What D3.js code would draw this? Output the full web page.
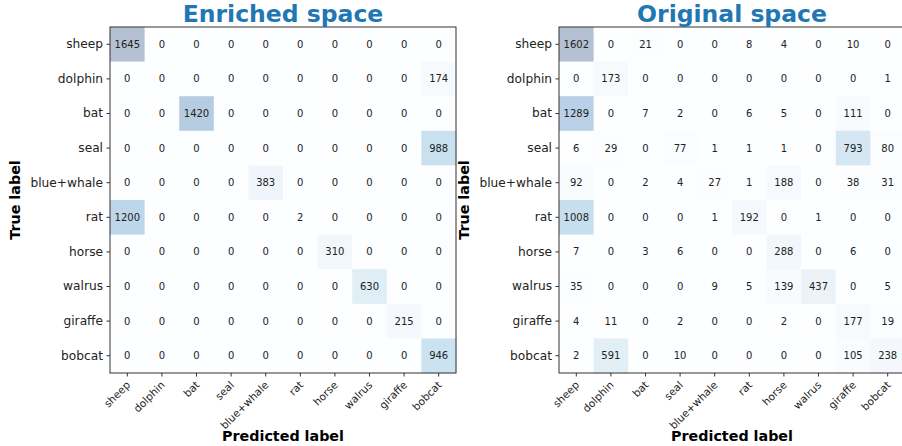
<!DOCTYPE html>
<html>
<head>
<meta charset="utf-8">
<script src="https://cdn.jsdelivr.net/npm/d3@7"></script>
<style>
  body { margin: 0; background: #fff; }
  svg { font-family: "DejaVu Sans", sans-serif; display: block; }
</style>
</head>
<body>
<svg id="chart" width="902" height="446"></svg>
<script>
const labels = ["sheep", "dolphin", "bat", "seal", "blue+whale", "rat", "horse", "walrus", "giraffe", "bobcat"];

// rows = true label, cols = predicted label
const enrichedCounts = [
  [1645, 0, 0, 0, 0, 0, 0, 0, 0, 0],
  [0, 0, 0, 0, 0, 0, 0, 0, 0, 174],
  [0, 0, 1420, 0, 0, 0, 0, 0, 0, 0],
  [0, 0, 0, 0, 0, 0, 0, 0, 0, 988],
  [0, 0, 0, 0, 383, 0, 0, 0, 0, 0],
  [1200, 0, 0, 0, 0, 2, 0, 0, 0, 0],
  [0, 0, 0, 0, 0, 0, 310, 0, 0, 0],
  [0, 0, 0, 0, 0, 0, 0, 630, 0, 0],
  [0, 0, 0, 0, 0, 0, 0, 0, 215, 0],
  [0, 0, 0, 0, 0, 0, 0, 0, 0, 946]
];

const originalCounts = [
  [1602, 0, 21, 0, 0, 8, 4, 0, 10, 0],
  [0, 173, 0, 0, 0, 0, 0, 0, 0, 1],
  [1289, 0, 7, 2, 0, 6, 5, 0, 111, 0],
  [6, 29, 0, 77, 1, 1, 1, 0, 793, 80],
  [92, 0, 2, 4, 27, 1, 188, 0, 38, 31],
  [1008, 0, 0, 0, 1, 192, 0, 1, 0, 0],
  [7, 0, 3, 6, 0, 0, 288, 0, 6, 0],
  [35, 0, 0, 0, 9, 5, 139, 437, 0, 5],
  [4, 11, 0, 2, 0, 0, 2, 0, 177, 19],
  [2, 591, 0, 10, 0, 0, 0, 0, 105, 238]
];

const panels = [
  { title: "Enriched space", counts: enrichedCounts, left: 110 },
  { title: "Original space", counts: originalCounts, left: 559 }
];

const svg = d3.select("#chart");
const size = 346;
const topMargin = 27;

panels.forEach(p => drawMatrix(p));

function drawMatrix(p) {
  const g = svg.append("g").attr("transform", `translate(${p.left},${topMargin})`);

  const x = d3.scaleBand().domain(labels).range([0, size]);
  const y = d3.scaleBand().domain(labels).range([0, size]);

  // imshow(cmap=Blues, alpha=0.3) -> blend onto white
  const maxVal = d3.max(p.counts.flat());
  const color = d3.scaleSequential(d3.interpolateBlues).domain([0, maxVal]);
  const blend = v => {
    const c = d3.rgb(color(v));
    const a = 0.3;
    return d3.rgb(255 * (1 - a) + c.r * a, 255 * (1 - a) + c.g * a, 255 * (1 - a) + c.b * a);
  };

  const cells = [];
  p.counts.forEach((row, i) => row.forEach((v, j) => cells.push({ t: labels[i], pr: labels[j], v })));

  g.selectAll("rect.cell")
    .data(cells)
    .join("rect")
    .attr("class", "cell")
    .attr("x", d => x(d.pr))
    .attr("y", d => y(d.t))
    .attr("width", x.bandwidth() + 0.5)
    .attr("height", y.bandwidth() + 0.5)
    .attr("fill", d => blend(d.v));

  g.selectAll("text.val")
    .data(cells)
    .join("text")
    .attr("class", "val")
    .attr("x", d => x(d.pr) + x.bandwidth() / 2)
    .attr("y", d => y(d.t) + y.bandwidth() / 2)
    .attr("text-anchor", "middle")
    .attr("dy", "0.35em")
    .style("font-size", "10px")
    .attr("fill", "#222")
    .text(d => d.v);

  // frame
  g.append("rect")
    .attr("width", size)
    .attr("height", size)
    .attr("fill", "none")
    .attr("stroke", "#333")
    .attr("stroke-width", 1);

  // y axis
  const yAxis = g.append("g")
    .call(d3.axisLeft(y).tickSize(3.5).tickPadding(3.5));
  yAxis.select(".domain").remove();
  yAxis.selectAll("line").attr("stroke", "#333");
  yAxis.selectAll("text")
    .style("font-size", "12.2px")
    .style("font-family", "DejaVu Sans, sans-serif")
    .attr("fill", "#222");

  // x axis, labels rotated 45deg and anchored at their end
  const xAxis = g.append("g")
    .attr("transform", `translate(0,${size})`)
    .call(d3.axisBottom(x).tickSize(3.5).tickPadding(3.5));
  xAxis.select(".domain").remove();
  xAxis.selectAll("line").attr("stroke", "#333");
  xAxis.selectAll("text")
    .style("font-size", "10.5px")
    .style("font-family", "DejaVu Sans, sans-serif")
    .attr("fill", "#222")
    .attr("x", 0)
    .attr("y", 0)
    .attr("dy", "0.35em")
    .attr("text-anchor", "end")
    .attr("transform", "translate(1,10) rotate(-45)");

  // title
  svg.append("text")
    .attr("x", p.left + size / 2)
    .attr("y", 22)
    .attr("text-anchor", "middle")
    .style("font-size", "23.5px")
    .style("font-weight", "bold")
    .attr("fill", "#1f77b4")
    .text(p.title);

  svg.append("text")
    .attr("x", p.left + size / 2)
    .attr("y", 441)
    .attr("text-anchor", "middle")
    .style("font-size", "14.3px")
    .style("font-weight", "bold")
    .attr("fill", "#000")
    .text("Predicted label");

  svg.append("text")
    .attr("transform", `translate(${p.left - 90},${topMargin + size / 2}) rotate(-90)`)
    .attr("text-anchor", "middle")
    .style("font-size", "14.3px")
    .style("font-weight", "bold")
    .attr("fill", "#000")
    .text("True label");
}
</script>
</body>
</html>
